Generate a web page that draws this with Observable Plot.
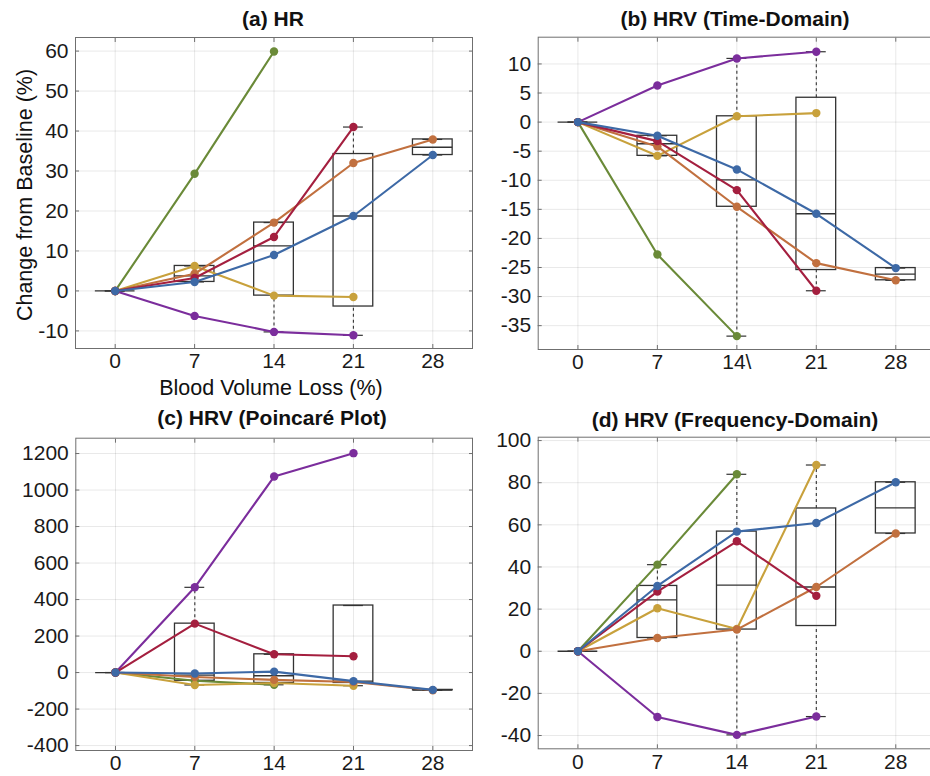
<!DOCTYPE html>
<html><head><meta charset="utf-8">
<script src="https://cdn.jsdelivr.net/npm/d3@7"></script>
<script src="https://cdn.jsdelivr.net/npm/@observablehq/plot@0.6"></script>
<style>
body{margin:0;background:#fff;}
#wrap{position:relative;width:930px;height:776px;overflow:hidden;font-family:"Liberation Sans",Arial,Helvetica,sans-serif;color:#1a1a1a;}
.panel{position:absolute;}
.panel svg{max-width:none !important;}
.title{position:absolute;font-weight:bold;font-size:21px;transform:translate(-50%,-50%);white-space:nowrap;color:#111;}
.lab{position:absolute;font-size:21.5px;white-space:nowrap;color:#111;transform:translate(-50%,-50%);}
</style></head>
<body><div id="wrap"></div>
<script>
// ---- shared axis data ----
const xLoss = [0, 7, 14, 21, 28];
const xLabelsA = ["0", "7", "14", "21", "28"];
const xLabelsB = ["0", "7", "14\\", "21", "28"];
const seriesNames = ["green", "purple", "gold", "orange", "red", "blue"];

// ---- (a) HR ----
const hrGreen  = [0, 29.3, 59.9];
const hrPurple = [0, -6.25, -10.25, -11.1];
const hrGold   = [0, 6.25, -1.17, -1.5];
const hrOrange = [0, 4.3, 17.1, 32.0, 37.9];
const hrRed    = [0, 3.25, 13.5, 41.0];
const hrBlue   = [0, 2.25, 9.0, 18.75, 34.0];
const hrYTicks = [-10, 0, 10, 20, 30, 40, 50, 60];

// ---- (b) HRV (Time-Domain) ----
const tdGreen  = [0, -22.76, -36.8];
const tdPurple = [0, 6.3, 10.95, 12.1];
const tdGold   = [0, -5.8, 1.0, 1.55];
const tdOrange = [0, -4.18, -14.56, -24.25, -27.2];
const tdRed    = [0, -3.27, -11.7, -29.0];
const tdBlue   = [0, -2.35, -8.14, -15.76, -25.1];
const tdYTicks = [-35, -30, -25, -20, -15, -10, -5, 0, 5, 10];

// ---- (c) HRV (Poincaré Plot) ----
const ppGreen  = [0, -45, -67];
const ppPurple = [0, 467, 1074, 1202];
const ppGold   = [0, -68, -57, -72];
const ppOrange = [0, -24, -40, -52, -97];
const ppRed    = [0, 268, 100, 89];
const ppBlue   = [0, -5, 5, -47, -95];
const ppYTicks = [-400, -200, 0, 200, 400, 600, 800, 1000, 1200];

// ---- (d) HRV (Frequency-Domain) ----
const fdGreen  = [0, 41.1, 84.0];
const fdPurple = [0, -31.2, -39.7, -31.0];
const fdGold   = [0, 20.4, 10.6, 88.4];
const fdOrange = [0, 6.3, 10.3, 30.5, 55.9];
const fdRed    = [0, 28.3, 52.2, 26.3];
const fdBlue   = [0, 31.0, 56.8, 60.9, 80.2];
const fdYTicks = [-40, -20, 0, 20, 40, 60, 80, 100];

// ---- styles ----
const colors = {green:"#6a8a38", purple:"#7b2d9c", gold:"#c8a13c", orange:"#c1703f", red:"#a41f3f", blue:"#3d69a6"};
const BOX_HALF = 1.75, CAP_HALF = 0.875;

// MATLAB-style quantile
function mq(s, p) {
  const n = s.length; const pos = n * p + 0.5;
  if (pos <= 1) return s[0];
  if (pos >= n) return s[n - 1];
  const lo = Math.floor(pos), f = pos - lo;
  return s[lo - 1] + f * (s[lo] - s[lo - 1]);
}
function boxStats(seriesList) {
  return xLoss.map((x, i) => {
    const vals = seriesList.map(s => s[i]).filter(v => v !== undefined).sort((a, b) => a - b);
    if (!vals.length) return null;
    const q1 = mq(vals, 0.25), med = mq(vals, 0.5), q3 = mq(vals, 0.75), iqr = q3 - q1;
    const inside = vals.filter(v => v >= q1 - 1.5 * iqr && v <= q3 + 1.5 * iqr);
    const lo = Math.min(d3.min(inside), q1), hi = Math.max(d3.max(inside), q3);
    return {x, q1, med, q3, lo, hi};
  }).filter(b => b);
}

function makePanel(o) {
  const boxes = boxStats(o.series);
  const marks = [
    Plot.gridX(xLoss, {stroke:"#000", strokeOpacity:0.09}),
    Plot.gridY(o.yTicks, {stroke:"#000", strokeOpacity:0.09}),
    Plot.ruleX(boxes.filter(b => b.hi > b.q3), {x:"x", y1:"q3", y2:"hi", stroke:"#333", strokeDasharray:"3,3", strokeWidth:1.1}),
    Plot.ruleX(boxes.filter(b => b.lo < b.q1), {x:"x", y1:"lo", y2:"q1", stroke:"#333", strokeDasharray:"3,3", strokeWidth:1.1}),
    Plot.ruleY(boxes, {y:"hi", x1:d => d.x - CAP_HALF, x2:d => d.x + CAP_HALF, stroke:"#333", strokeWidth:1.2}),
    Plot.ruleY(boxes, {y:"lo", x1:d => d.x - CAP_HALF, x2:d => d.x + CAP_HALF, stroke:"#333", strokeWidth:1.2}),
    Plot.rect(boxes, {x1:d => d.x - BOX_HALF, x2:d => d.x + BOX_HALF, y1:"q1", y2:"q3", fill:"none", stroke:"#333", strokeWidth:1.3}),
    Plot.ruleY(boxes, {y:"med", x1:d => d.x - BOX_HALF, x2:d => d.x + BOX_HALF, stroke:"#333", strokeWidth:1.3})
  ];
  o.series.forEach((s, k) => {
    const pts = s.map((v, i) => ({x: xLoss[i], y: v}));
    const c = colors[seriesNames[k]];
    marks.push(Plot.line(pts, {x:"x", y:"y", stroke:c, strokeWidth:2.1}));
    marks.push(Plot.dot(pts, {x:"x", y:"y", fill:c, r:4.2}));
  });
  marks.push(Plot.frame({stroke:"#6f6f6f", strokeWidth:1}));
  // inward tick marks on all four sides
  marks.push(Plot.axisX(xLoss, {anchor:"bottom", tickSize:-4, tickFormat:() => "", stroke:"#6f6f6f", label:null}));
  marks.push(Plot.axisX(xLoss, {anchor:"top", tickSize:-4, tickFormat:() => "", stroke:"#6f6f6f", label:null}));
  marks.push(Plot.axisY(o.yTicks, {anchor:"left", tickSize:-4, tickFormat:() => "", stroke:"#6f6f6f", label:null}));
  marks.push(Plot.axisY(o.yTicks, {anchor:"right", tickSize:-4, tickFormat:() => "", stroke:"#6f6f6f", label:null}));
  // tick labels
  marks.push(Plot.axisX(xLoss, {anchor:"bottom", tickSize:0, tickPadding:5, tickFormat:d => o.xLabels[xLoss.indexOf(d)], label:null}));
  marks.push(Plot.axisY(o.yTicks, {anchor:"left", tickSize:0, tickPadding:7, tickFormat:d => String(d), label:null}));
  const svg = Plot.plot({
    width:o.width, height:o.height,
    marginLeft:o.mL, marginRight:o.mR, marginTop:o.mT, marginBottom:o.mB,
    x:{domain:[-3.5, 31.5]},
    y:{domain:o.yDomain},
    style:{fontSize:"21px", fontFamily:"Liberation Sans, Arial, sans-serif", color:"#1a1a1a", background:"transparent", overflow:"visible"},
    marks
  });
  svg.style.maxWidth = "none";
  svg.style.width = o.width + "px";
  svg.style.height = o.height + "px";
  const div = document.createElement("div");
  div.className = "panel"; div.style.left = o.left + "px"; div.style.top = o.top + "px";
  div.style.width = o.width + "px"; div.style.height = o.height + "px";
  div.appendChild(svg);
  document.getElementById("wrap").appendChild(div);
  const t = document.createElement("div");
  t.className = "title"; t.textContent = o.title;
  t.style.left = o.titleX + "px"; t.style.top = o.titleY + "px";
  document.getElementById("wrap").appendChild(t);
}

makePanel({title:"(a) HR", titleX:273, titleY:19, left:0, top:0, width:480, height:400, mL:75, mR:8, mT:37, mB:52,
  series:[hrGreen, hrPurple, hrGold, hrOrange, hrRed, hrBlue], yDomain:[-14.4, 63.4], yTicks:hrYTicks, xLabels:xLabelsA});
makePanel({title:"(b) HRV (Time-Domain)", titleX:735, titleY:19, left:470, top:0, width:470, height:400, mL:67.7, mR:5, mT:36.7, mB:51,
  series:[tdGreen, tdPurple, tdGold, tdOrange, tdRed, tdBlue], yDomain:[-39.1, 14.6], yTicks:tdYTicks, xLabels:xLabelsB});
makePanel({title:"(c) HRV (Poincaré Plot)", titleX:272, titleY:418, left:0, top:400, width:480, height:376, mL:75.3, mR:8, mT:37.7, mB:26,
  series:[ppGreen, ppPurple, ppGold, ppOrange, ppRed, ppBlue], yDomain:[-427, 1284], yTicks:ppYTicks, xLabels:xLabelsA});
makePanel({title:"(d) HRV (Frequency-Domain)", titleX:735, titleY:420, left:470, top:400, width:470, height:376, mL:67.7, mR:5, mT:36.7, mB:27.7,
  series:[fdGreen, fdPurple, fdGold, fdOrange, fdRed, fdBlue], yDomain:[-46.3, 101.6], yTicks:fdYTicks, xLabels:xLabelsA});

// axis titles of panel (a)
const wrap = document.getElementById("wrap");
const xl = document.createElement("div"); xl.className = "lab"; xl.textContent = "Blood Volume Loss (%)";
xl.style.left = "271px"; xl.style.top = "388px"; wrap.appendChild(xl);
const yl = document.createElement("div"); yl.className = "lab"; yl.textContent = "Change from Baseline (%)";
yl.style.left = "25px"; yl.style.top = "195px"; yl.style.transform = "translate(-50%,-50%) rotate(-90deg)"; wrap.appendChild(yl);
</script>
</body></html>
